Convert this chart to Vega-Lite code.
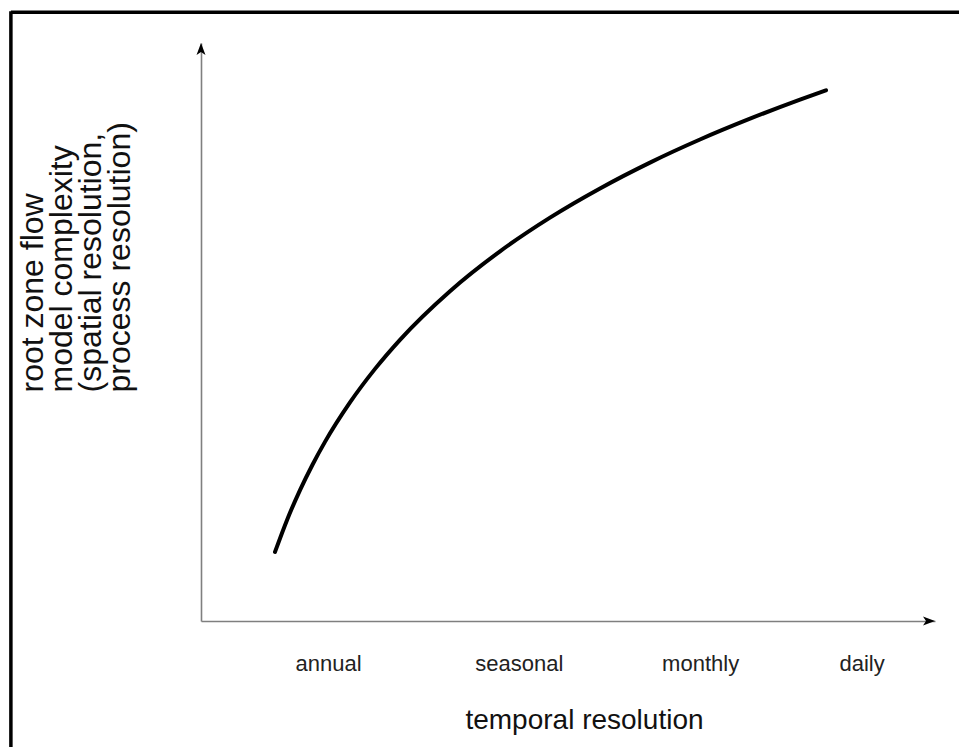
{
  "$schema": "https://vega.github.io/schema/vega-lite/v6.json",
  "width": 734,
  "height": 578,
  "autosize": {"type": "none"},
  "padding": {"left": 201, "top": 43, "right": 24, "bottom": 126},
  "background": "white",
  "config": {"view": {"stroke": null}, "font": "Liberation Sans"},
  "layer": [
    {
      "data": {"values": [
        {"t": 10.08, "c": 11.94},
        {"t": 11.78, "c": 17.66},
        {"t": 13.49, "c": 22.65},
        {"t": 15.19, "c": 27.04},
        {"t": 16.89, "c": 30.99},
        {"t": 20.30, "c": 37.82},
        {"t": 23.71, "c": 43.62},
        {"t": 27.11, "c": 48.65},
        {"t": 33.92, "c": 57.06},
        {"t": 40.74, "c": 63.96},
        {"t": 47.55, "c": 69.79},
        {"t": 54.36, "c": 74.84},
        {"t": 61.17, "c": 79.31},
        {"t": 67.98, "c": 83.30},
        {"t": 74.80, "c": 86.90},
        {"t": 81.61, "c": 90.21},
        {"t": 85.15, "c": 91.82}
      ]},
      "mark": {"type": "line", "color": "black", "strokeWidth": 4, "interpolate": "monotone", "strokeCap": "round"},
      "encoding": {
        "x": {
          "field": "t", "type": "quantitative",
          "scale": {"domain": [0, 100], "nice": false, "zero": false},
          "axis": {
            "values": [17.3, 43.3, 68.0, 90.0],
            "labelExpr": "datum.value < 30 ? 'annual' : datum.value < 55 ? 'seasonal' : datum.value < 80 ? 'monthly' : 'daily'",
            "ticks": false, "grid": false,
            "domainColor": "#7f7f7f", "domainWidth": 1.6,
            "labelFontSize": 22, "labelColor": "#222222", "labelBaseline": "alphabetic", "labelPadding": 49,
            "labelFont": "Liberation Sans",
            "title": "temporal resolution",
            "titleFontSize": 28, "titleFontWeight": "normal", "titleColor": "#111111",
            "titleFont": "Liberation Sans",
            "titleX": 383, "titleY": 107, "titleAlign": "center", "titleBaseline": "alphabetic"
          }
        },
        "y": {
          "field": "c", "type": "quantitative",
          "scale": {"domain": [0, 100], "nice": false, "zero": false},
          "axis": {
            "labels": false, "ticks": false, "grid": false,
            "domainColor": "#7f7f7f", "domainWidth": 1.6,
            "title": ["root zone flow", "model complexity", "(spatial resolution,", "process resolution)"],
            "titleFontSize": 32, "titleFontWeight": "normal", "titleColor": "#111111",
            "titleFont": "Liberation Sans",
            "titleAngle": 270, "titleAlign": "left", "titleBaseline": "top",
            "titleLineHeight": 29,
            "titleX": -184, "titleY": 349
          }
        }
      }
    },
    {
      "data": {"values": [{"t": 0, "c": 100}]},
      "mark": {"type": "point", "filled": true, "color": "black", "opacity": 1, "size": 144,
               "shape": "M0,0L-0.75,2L0,1.5L0.75,2Z"},
      "encoding": {"x": {"field": "t", "type": "quantitative"}, "y": {"field": "c", "type": "quantitative"}}
    },
    {
      "data": {"values": [{"t": 100, "c": 0}]},
      "mark": {"type": "point", "filled": true, "color": "black", "opacity": 1, "size": 144,
               "shape": "M0,0L-2,-0.75L-1.5,0L-2,0.75Z"},
      "encoding": {"x": {"field": "t", "type": "quantitative"}, "y": {"field": "c", "type": "quantitative"}}
    },
    {
      "data": {"values": [{"t": -25.9, "t2": 115, "c": 105.3}]},
      "mark": {"type": "rule", "color": "black", "strokeWidth": 3.5},
      "encoding": {"x": {"field": "t", "type": "quantitative"}, "x2": {"field": "t2"}, "y": {"field": "c", "type": "quantitative"}}
    },
    {
      "data": {"values": [{"t": -25.9, "c": -30, "c2": 105.5}]},
      "mark": {"type": "rule", "color": "black", "strokeWidth": 3.5},
      "encoding": {"x": {"field": "t", "type": "quantitative"}, "y": {"field": "c", "type": "quantitative"}, "y2": {"field": "c2"}}
    }
  ]
}
